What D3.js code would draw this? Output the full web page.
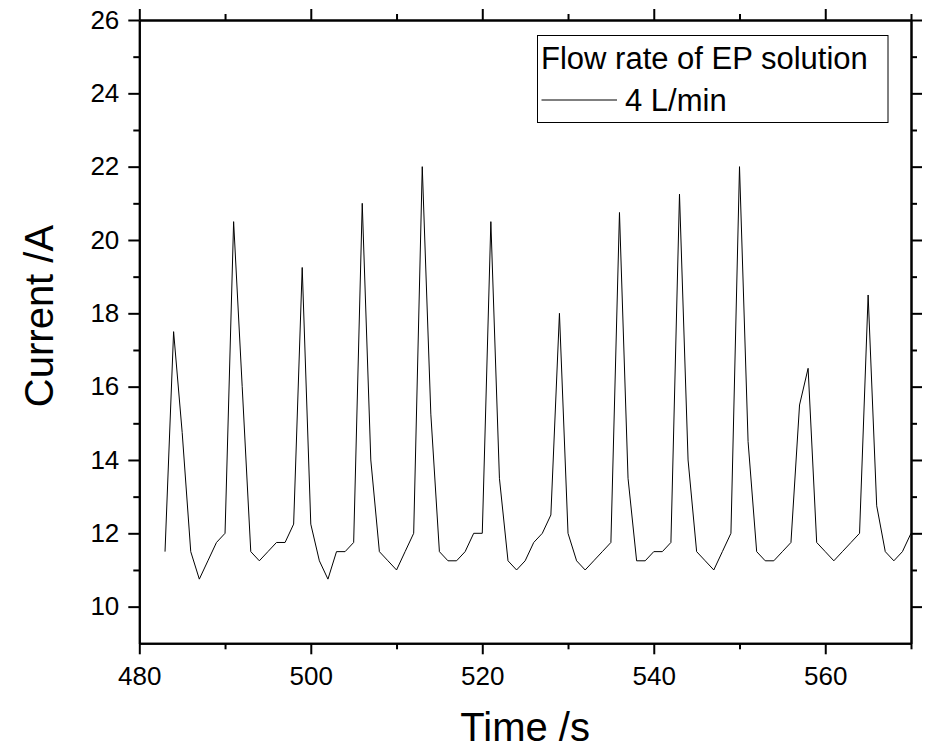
<!DOCTYPE html>
<html>
<head>
<meta charset="utf-8">
<script src="https://cdn.jsdelivr.net/npm/d3@7"></script>
<style>
  body { margin: 0; background: #fff; }
  text { font-family: "Liberation Sans", Arial, sans-serif; }
</style>
</head>
<body>
<script>
// time (s) and current (A)
var times = [483, 484, 485, 486, 487, 488, 489, 490, 491, 492, 493, 494, 495, 496, 497, 498, 499, 500,
  501, 502, 503, 504, 505, 506, 507, 508, 509, 510, 511, 512, 513, 514, 515, 516, 517, 518, 519, 520,
  521, 522, 523, 524, 525, 526, 527, 528, 529, 530, 531, 532, 533, 534, 535, 536, 537, 538, 539, 540,
  541, 542, 543, 544, 545, 546, 547, 548, 549, 550, 551, 552, 553, 554, 555, 556, 557, 558, 559, 560,
  561, 562, 563, 564, 565, 566, 567, 568, 569, 570];
var current = [11.5, 17.5, 14.75, 11.5, 10.75, 11.25, 11.75, 12.0, 20.5, 16.0, 11.5, 11.25, 11.5, 11.75, 11.75, 12.25, 19.25, 12.25,
  11.25, 10.75, 11.5, 11.5, 11.75, 21.0, 14.0, 11.5, 11.25, 11.0, 11.5, 12.0, 22.0, 15.25, 11.5, 11.25, 11.25, 11.5, 12.0, 12.0,
  20.5, 13.5, 11.25, 11.0, 11.25, 11.75, 12.0, 12.5, 18.0, 12.0, 11.25, 11.0, 11.25, 11.5, 11.75, 20.75, 13.5, 11.25, 11.25, 11.5,
  11.5, 11.75, 21.25, 14.0, 11.5, 11.25, 11.0, 11.5, 12.0, 22.0, 14.5, 11.5, 11.25, 11.25, 11.5, 11.75, 15.5, 16.5, 11.75, 11.5,
  11.25, 11.5, 11.75, 12.0, 18.5, 12.75, 11.5, 11.25, 11.5, 12.0];

var xDomain = [480, 570];
var yDomain = [9, 26];
var xTicks = [480, 500, 520, 540, 560];
var xMinorTicks = [490, 510, 530, 550, 570];
var yTicks = [10, 12, 14, 16, 18, 20, 22, 24, 26];
var yMinorTicks = [11, 13, 15, 17, 19, 21, 23, 25];

var legendTitle = "Flow rate of EP solution";
var seriesName = "4 L/min";

// sizes
var svgWidth = 925;
var svgHeight = 750;
var margin = { top: 20, right: 14, bottom: 106.7, left: 139.3 };
var chartWidth = svgWidth - margin.left - margin.right;
var chartHeight = svgHeight - margin.top - margin.bottom;

var svg = d3.select("body")
  .append("svg")
  .attr("width", svgWidth)
  .attr("height", svgHeight);

var chartGroup = svg.append("g")
  .attr("transform", `translate(${margin.left}, ${margin.top})`);

var x = d3.scaleLinear().domain(xDomain).range([0, chartWidth]);
var y = d3.scaleLinear().domain(yDomain).range([chartHeight, 0]);

var major = 11, minor = 6;

function styleAxis(g) {
  g.selectAll("path.domain").attr("stroke", "#000").attr("stroke-width", 2);
  g.selectAll(".tick line").attr("stroke", "#000").attr("stroke-width", 2);
  g.selectAll(".tick text").attr("fill", "#000").attr("font-size", 26)
    .attr("font-family", '"Liberation Sans", Arial, sans-serif');
}

// bottom axis
chartGroup.append("g")
  .attr("transform", "translate(0," + chartHeight + ")")
  .call(d3.axisBottom(x).tickValues(xMinorTicks).tickFormat("").tickSize(minor).tickSizeOuter(0))
  .call(styleAxis);
chartGroup.append("g")
  .attr("transform", "translate(0," + chartHeight + ")")
  .call(d3.axisBottom(x).tickValues(xTicks).tickFormat(d3.format("d")).tickSize(major).tickSizeOuter(0).tickPadding(12.5))
  .call(styleAxis);

// top axis (ticks only)
chartGroup.append("g")
  .call(d3.axisTop(x).tickValues(xMinorTicks).tickFormat("").tickSize(minor).tickSizeOuter(0))
  .call(styleAxis);
chartGroup.append("g")
  .call(d3.axisTop(x).tickValues(xTicks).tickFormat("").tickSize(major).tickSizeOuter(0))
  .call(styleAxis);

// left axis
chartGroup.append("g")
  .call(d3.axisLeft(y).tickValues(yMinorTicks).tickFormat("").tickSize(minor).tickSizeOuter(0))
  .call(styleAxis);
chartGroup.append("g")
  .call(d3.axisLeft(y).tickValues(yTicks).tickFormat(d3.format("d")).tickSize(major).tickSizeOuter(0).tickPadding(9))
  .call(styleAxis);

// right axis (ticks only)
chartGroup.append("g")
  .attr("transform", "translate(" + chartWidth + ",0)")
  .call(d3.axisRight(y).tickValues(yMinorTicks).tickFormat("").tickSize(minor).tickSizeOuter(0))
  .call(styleAxis);
chartGroup.append("g")
  .attr("transform", "translate(" + chartWidth + ",0)")
  .call(d3.axisRight(y).tickValues(yTicks).tickFormat("").tickSize(major).tickSizeOuter(0))
  .call(styleAxis);

// the line
var data = times.map(function (t, i) { return { t: t, v: current[i] }; });
var line = d3.line()
  .x(function (d) { return x(d.t); })
  .y(function (d) { return y(d.v); });

chartGroup.append("path")
  .datum(data)
  .attr("fill", "none")
  .attr("stroke", "#000")
  .attr("stroke-width", 1)
  .attr("d", line);

// legend
var legend = svg.append("g");
legend.append("rect")
  .attr("x", 537.5)
  .attr("y", 35.5)
  .attr("width", 350.5)
  .attr("height", 87)
  .attr("fill", "#fff")
  .attr("stroke", "#000")
  .attr("stroke-width", 1);
legend.append("text")
  .attr("x", 541)
  .attr("y", 68.5)
  .attr("font-size", 31)
  .attr("fill", "#000")
  .text(legendTitle);
legend.append("line")
  .attr("x1", 541.5)
  .attr("x2", 617)
  .attr("y1", 100)
  .attr("y2", 100)
  .attr("stroke", "#000")
  .attr("stroke-width", 1);
legend.append("text")
  .attr("x", 625)
  .attr("y", 110.5)
  .attr("font-size", 31)
  .attr("fill", "#000")
  .text(seriesName);

// axis titles
svg.append("text")
  .attr("x", margin.left + chartWidth / 2)
  .attr("y", 741)
  .attr("text-anchor", "middle")
  .attr("font-size", 40)
  .attr("fill", "#000")
  .text("Time /s");

svg.append("text")
  .attr("transform", "translate(53,316) rotate(-90)")
  .attr("text-anchor", "middle")
  .attr("font-size", 40)
  .attr("fill", "#000")
  .text("Current /A");
</script>
</body>
</html>
